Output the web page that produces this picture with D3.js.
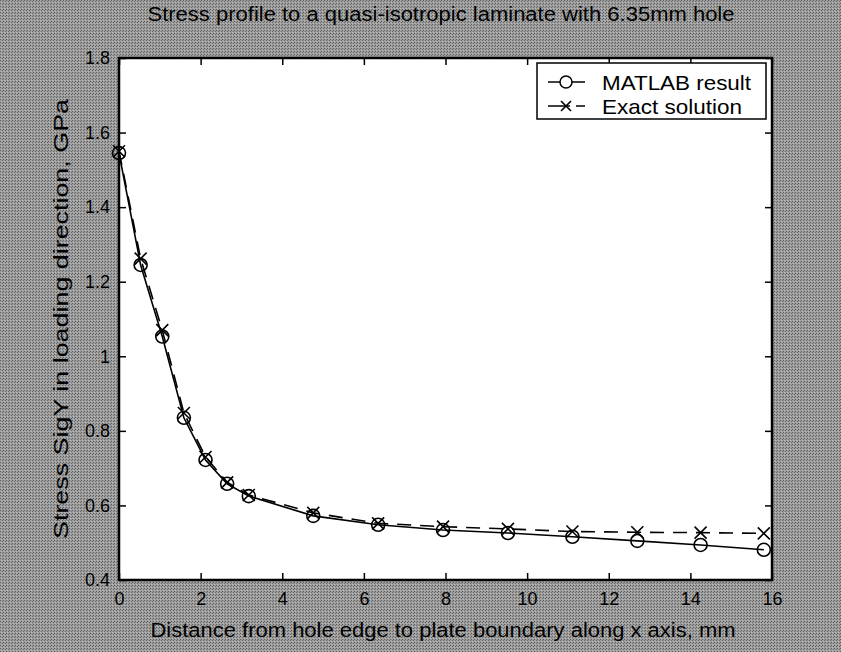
<!DOCTYPE html>
<html>
<head>
<meta charset="utf-8">
<script src="https://cdn.jsdelivr.net/npm/d3@7"></script>
<style>
  html, body { margin: 0; padding: 0; background: #8c8c8c; }
  svg { display: block; font-family: "Liberation Sans", Arial, sans-serif; }
</style>
</head>
<body>
<div id="chart"></div>
<script>
// Data
var distance = [0, 0.53, 1.06, 1.59, 2.12, 2.65, 3.18, 4.76, 6.35, 7.94, 9.53, 11.11, 12.7, 14.25, 15.8];
var matlabStress = [1.545, 1.245, 1.053, 0.835, 0.722, 0.658, 0.625, 0.572, 0.548, 0.534, 0.526, 0.516, 0.505, 0.494, 0.481];
var exactStress = [1.55, 1.262, 1.07, 0.848, 0.73, 0.662, 0.628, 0.58, 0.552, 0.543, 0.537, 0.53, 0.528, 0.527, 0.525];
var xTicks = [0, 2, 4, 6, 8, 10, 12, 14, 16];
var yTicks = [0.4, 0.6, 0.8, 1, 1.2, 1.4, 1.6, 1.8];
var legendLabels = ['MATLAB result', 'Exact solution'];

var W = 841, H = 652;
var margin = {top: 58, right: 69, bottom: 72, left: 119};
var width = W - margin.left - margin.right,
    height = H - margin.top - margin.bottom;

var svg = d3.select('#chart').append('svg')
    .attr('width', W)
    .attr('height', H);

// Scanned gray dither background
var defs = svg.append('defs');
var pat = defs.append('pattern')
    .attr('id', 'dither')
    .attr('width', 3).attr('height', 3)
    .attr('patternUnits', 'userSpaceOnUse');
pat.append('rect').attr('width', 3).attr('height', 3).attr('fill', '#9e9e9e');
pat.append('rect').attr('width', 1).attr('height', 1).attr('fill', '#5e5e5e');
pat.append('rect').attr('x', 2).attr('y', 1).attr('width', 1).attr('height', 1).attr('fill', '#6a6a6a');
pat.append('rect').attr('x', 1).attr('y', 2).attr('width', 1).attr('height', 1).attr('fill', '#b8b8b8');
svg.append('rect').attr('width', W).attr('height', H).attr('fill', 'url(#dither)');

var x = d3.scaleLinear().domain([0, 16]).range([0, width]);
var y = d3.scaleLinear().domain([0.4, 1.8]).range([height, 0]);

var g = svg.append('g').attr('transform', 'translate(' + margin.left + ',' + margin.top + ')');

g.append('rect')
    .attr('width', width).attr('height', height)
    .attr('fill', '#fff');

// Axes (MATLAB style: inward ticks, labels outside, ticks mirrored)
var xAxis = d3.axisBottom(x).tickValues(xTicks).tickSize(-7).tickPadding(12).tickFormat(d3.format('d'));
var yAxis = d3.axisLeft(y).tickValues(yTicks).tickSize(-7).tickPadding(9).tickFormat(function(d) { return String(d); });

g.append('g').attr('class', 'axis')
    .attr('transform', 'translate(0,' + height + ')')
    .call(xAxis);
g.append('g').attr('class', 'axis')
    .call(yAxis);
g.append('g').attr('class', 'axis')
    .call(d3.axisTop(x).tickValues(xTicks).tickSize(-7).tickFormat(''));
g.append('g').attr('class', 'axis')
    .attr('transform', 'translate(' + width + ',0)')
    .call(d3.axisRight(y).tickValues(yTicks).tickSize(-7).tickFormat(''));

g.selectAll('.axis .domain').remove();
g.selectAll('.axis line').attr('stroke', '#000').attr('stroke-width', 1.5);
g.selectAll('.axis text').attr('fill', '#000').style('font-size', '18px');

g.append('rect')
    .attr('width', width).attr('height', height)
    .attr('fill', 'none').attr('stroke', '#000').attr('stroke-width', 2.5);

// Curves
var line = d3.line()
    .x(function(d) { return x(d[0]); })
    .y(function(d) { return y(d[1]); });

var exactPts = distance.map(function(d, i) { return [d, exactStress[i]]; });
var matlabPts = distance.map(function(d, i) { return [d, matlabStress[i]]; });

g.append('path')
    .attr('d', line(exactPts))
    .attr('fill', 'none').attr('stroke', '#000').attr('stroke-width', 1.6)
    .attr('stroke-dasharray', '14,9');

g.append('path')
    .attr('d', line(matlabPts))
    .attr('fill', 'none').attr('stroke', '#000').attr('stroke-width', 1.6);

function crossPath(cx, cy, s) {
    return 'M' + (cx - s) + ',' + (cy - s) + 'L' + (cx + s) + ',' + (cy + s) +
           'M' + (cx - s) + ',' + (cy + s) + 'L' + (cx + s) + ',' + (cy - s);
}

g.selectAll('.xmark').data(exactPts).enter()
    .append('path')
    .attr('class', 'xmark')
    .attr('d', function(d) { return crossPath(x(d[0]), y(d[1]), 6); })
    .attr('stroke', '#000').attr('stroke-width', 1.6).attr('fill', 'none');

g.selectAll('.omark').data(matlabPts).enter()
    .append('circle')
    .attr('class', 'omark')
    .attr('cx', function(d) { return x(d[0]); })
    .attr('cy', function(d) { return y(d[1]); })
    .attr('r', 6.5)
    .attr('stroke', '#000').attr('stroke-width', 1.6).attr('fill', 'none');

// Legend
var leg = svg.append('g').attr('transform', 'translate(537,63)');
leg.append('rect')
    .attr('width', 229).attr('height', 56)
    .attr('fill', '#fff').attr('stroke', '#000').attr('stroke-width', 1.5);

var legWidths = [149, 140];
var legRows = leg.selectAll('.row').data(legendLabels).enter()
    .append('g').attr('class', 'row')
    .attr('transform', function(d, i) { return 'translate(0,' + (19 + i * 24) + ')'; });

legRows.append('line')
    .attr('x1', 11).attr('x2', 48).attr('y1', 0).attr('y2', 0)
    .attr('stroke', '#000').attr('stroke-width', 1.6)
    .attr('stroke-dasharray', function(d, i) { return i === 1 ? '22,6' : null; });

legRows.filter(function(d, i) { return i === 0; })
    .append('circle').attr('cx', 29).attr('cy', 0).attr('r', 6)
    .attr('fill', '#fff').attr('stroke', '#000').attr('stroke-width', 1.5);
legRows.filter(function(d, i) { return i === 1; })
    .append('path').attr('d', crossPath(29, 0, 5))
    .attr('stroke', '#000').attr('stroke-width', 1.6);

legRows.append('text')
    .attr('x', 65).attr('y', 8)
    .attr('textLength', function(d, i) { return legWidths[i]; })
    .attr('lengthAdjust', 'spacingAndGlyphs')
    .style('font-size', '21px')
    .text(function(d) { return d; });

// Titles
svg.append('text')
    .attr('x', 441).attr('y', 21)
    .attr('text-anchor', 'middle')
    .attr('textLength', 587).attr('lengthAdjust', 'spacingAndGlyphs')
    .style('font-size', '20px')
    .text('Stress profile to a quasi-isotropic laminate with 6.35mm hole');

svg.append('text')
    .attr('x', 443).attr('y', 637)
    .attr('text-anchor', 'middle')
    .attr('textLength', 585).attr('lengthAdjust', 'spacingAndGlyphs')
    .style('font-size', '20px')
    .text('Distance from hole edge to plate boundary along x axis, mm');

svg.append('text')
    .attr('transform', 'translate(68,' + (margin.top + height / 2) + ') rotate(-90)')
    .attr('text-anchor', 'middle')
    .attr('textLength', 440).attr('lengthAdjust', 'spacingAndGlyphs')
    .style('font-size', '20px')
    .text('Stress SigY in loading direction, GPa');
</script>
</body>
</html>
